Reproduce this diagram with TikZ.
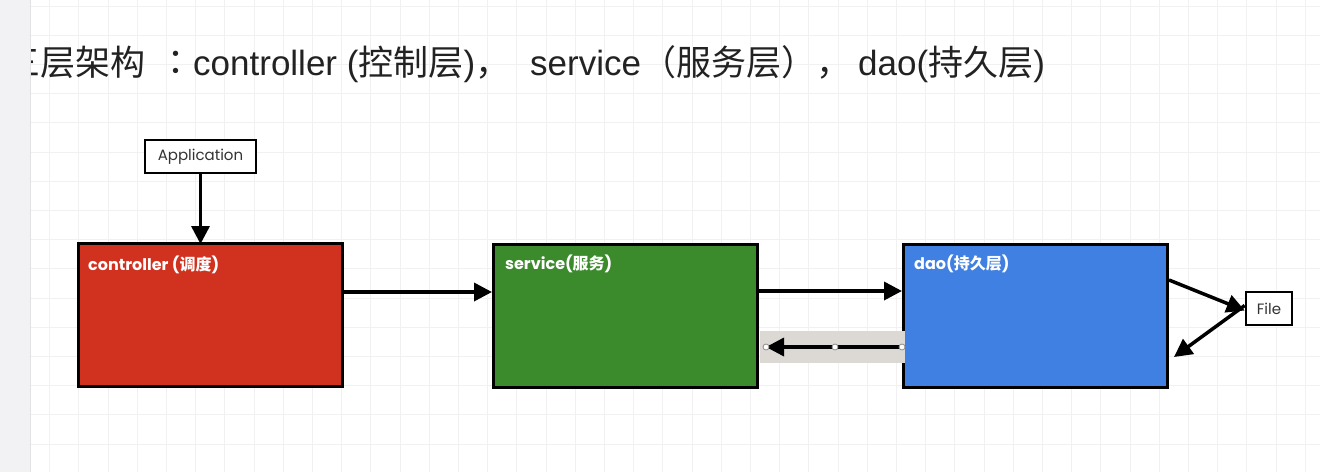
\documentclass[tikz,border=0pt]{standalone}
\usepackage{fontspec}
\setmainfont{Noto Sans CJK SC}
\newfontfamily\latinfont{Liberation Sans}
\newfontfamily\jpfont{Noto Sans CJK JP}
\newfontfamily\labelfont{Poppins}
\usetikzlibrary{arrows.meta}
\definecolor{gridc}{HTML}{F1F1F1}
\definecolor{stripc}{HTML}{F2F2F4}
\definecolor{stripline}{HTML}{E2E2E4}
\definecolor{redbox}{HTML}{D13220}
\definecolor{greenbox}{HTML}{3B8B2C}
\definecolor{bluebox}{HTML}{4080E2}
\definecolor{bandc}{HTML}{DCD8D4}
\definecolor{titlec}{HTML}{222222}
\tikzset{
  gridline/.style={draw=gridc, line width=1pt},
  titlepart/.style={anchor=base west, inner sep=0pt, text=titlec, font=\fontsize{35}{40}\selectfont},
  layerbox/.style={draw=black, line width=3pt, minimum width=264pt, minimum height=143pt, inner sep=0pt},
  layerlabel/.style={anchor=west, inner sep=0pt, text=white, font=\fontsize{16}{18}\selectfont\bfseries},
  smallbox/.style={draw=black, line width=2.6pt, fill=white, inner sep=0pt, font=\labelfont\fontsize{15}{17}\selectfont, text=black!80},
  arr/.style={draw=black, line width=3.5pt, -{Triangle[length=18pt,width=18pt]}},
  handle/.style={circle, draw=black!45, fill=white, line width=0.8pt, inner sep=0pt, minimum size=6pt}
}
\begin{document}
\begin{tikzpicture}[x=1pt,y=-1pt]
\useasboundingbox (0,0) rectangle (1320,472);
\fill[white] (0,0) rectangle (1320,472);
% grid
\foreach \i in {0,...,45} \draw[gridline] ({20.5+29.2*\i},0) -- ({20.5+29.2*\i},472);
\foreach \j in {0,...,16} \draw[gridline] (0,{6+29.2*\j}) -- (1320,{6+29.2*\j});
% title, placed in parts
\node[titlepart] (t1) at (5,75) {三层架构};
\node[titlepart, anchor=base, font=\jpfont\fontsize{35}{40}\selectfont] (t2) at (176,75) {：};
\node[titlepart] (t3) at (193,75) {{\latinfont controller (}控制层{\latinfont )}，};
\node[titlepart] (t4) at (530,75) {{\latinfont service}（服务层），};
\node[titlepart] (t5) at (858,75) {{\latinfont dao(}持久层{\latinfont )}};
% left strip
\fill[stripc] (0,0) rectangle (30,472);
\draw[stripline, line width=1pt] (30,0) -- (30,472);
% layer boxes
\node[layerbox, fill=redbox] (ctrl) at (210,315) {};
\node[layerbox, fill=greenbox] (svc) at (625.5,315.5) {};
\node[layerbox, fill=bluebox] (dao) at (1035.5,315.5) {};
\node[layerlabel] (ctrllab) at (88,265) {{\labelfont controller (}调度{\labelfont )}};
\node[layerlabel] (svclab) at (505,264) {{\labelfont service(}服务{\labelfont )}};
\node[layerlabel] (daolab) at (914,264) {{\labelfont dao(}持久层{\labelfont )}};
% small boxes
\node[smallbox, minimum width=111pt, minimum height=33pt] (app) at (200.5,156.5) {Application};
\node[smallbox, minimum width=46pt, minimum height=33pt] (file) at (1269,308.5) {File};
% connectors
\draw[arr] (app.south) -- ([yshift=-2pt]ctrl.north -| app.south);
\draw[arr] (ctrl.east |- 0,292) -- (svc.west |- 0,292);
\draw[arr] (svc.east |- 0,291) -- (dao.west |- 0,291);
% selected back arrow
\fill[bandc] (760,331) rectangle (905,363);
\coordinate (backend) at (766,347);
\coordinate (backmid) at (835,347);
\draw[arr] (dao.west |- 0,347) -- (backend);
\node[handle] (h1) at (backend) {};
\node[handle] (h2) at (backmid) {};
\node[handle] (h3) at (dao.west |- 0,347) {};
% file arrows
\draw[arr] (dao.east |- 0,280) -- ([yshift=-2pt]file.west);
\draw[arr] ([yshift=3pt]file.west) -- ([xshift=5pt]dao.east |- 0,357);
\end{tikzpicture}
\end{document}
